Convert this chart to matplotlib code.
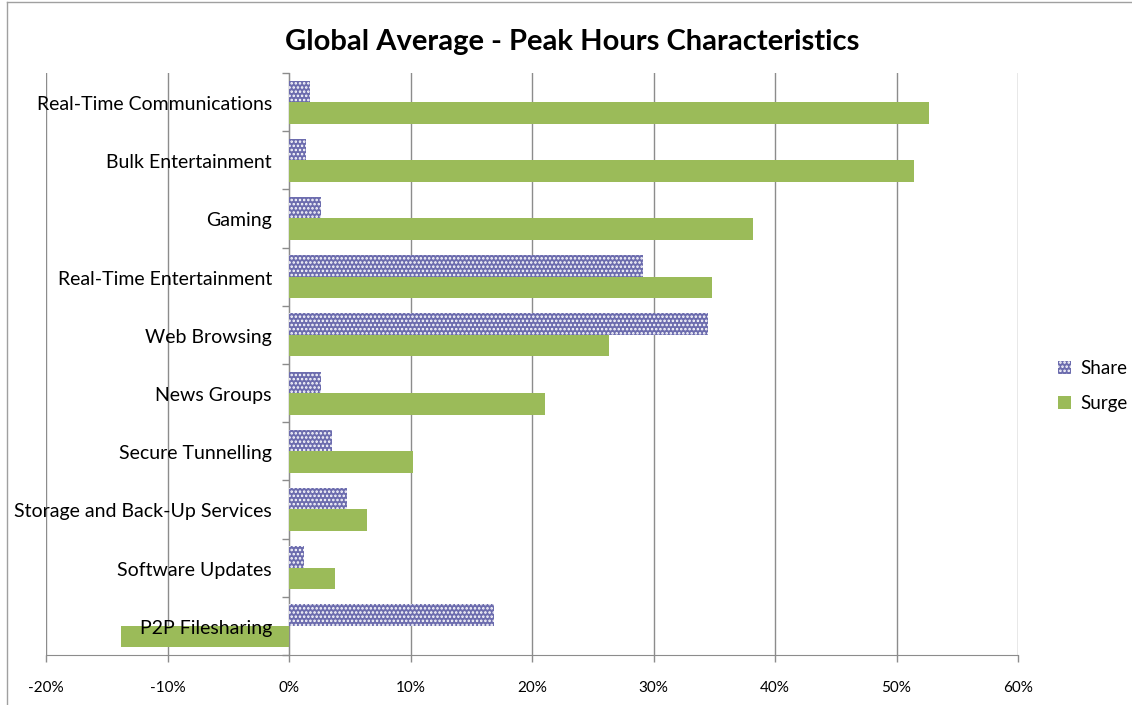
import matplotlib
matplotlib.use("Agg")
import matplotlib.pyplot as plt
from matplotlib.patches import Patch
from matplotlib.lines import Line2D
import numpy as np

plt.rcParams['font.family'] = ['Lato', 'DejaVu Sans']
plt.rcParams['hatch.color'] = 'white'
plt.rcParams['hatch.linewidth'] = 1.2

categories = [
    "Real-Time Communications",
    "Bulk Entertainment",
    "Gaming",
    "Real-Time Entertainment",
    "Web Browsing",
    "News Groups",
    "Secure Tunnelling",
    "Storage and Back-Up Services",
    "Software Updates",
    "P2P Filesharing",
]
share = [1.7, 1.4, 2.6, 29.1, 34.5, 2.6, 3.5, 4.8, 1.2, 16.9]
surge = [52.7, 51.4, 38.2, 34.8, 26.3, 21.1, 10.2, 6.4, 3.8, -13.8]
x_ticks = [-20, -10, 0, 10, 20, 30, 40, 50, 60]

share_color = "#6C6CAE"
surge_color = "#9BBB59"
grid_color = "#8C8C8C"

fig = plt.figure(figsize=(11.32, 7.05), dpi=100)
ax = fig.add_axes([46 / 1132, 50 / 705, (1018 - 46) / 1132, (655 - 73) / 705])

y = np.arange(len(categories))
bh = 0.37
ax.barh(y - 0.185, share, height=bh, color=share_color, hatch='....',
        edgecolor='white', linewidth=0, label='Share', zorder=3)
ax.barh(y + 0.185, surge, height=bh, color=surge_color, linewidth=0,
        label='Surge', zorder=3)

ax.set_xlim(-20, 60)
ax.set_ylim(len(categories) - 0.5, -0.5)

ax.set_xticks(x_ticks)
ax.set_xticklabels([f"{v}%" for v in x_ticks], fontsize=11)
ax.tick_params(axis='x', direction='out', length=5, width=1, color=grid_color, pad=14)
ax.xaxis.grid(True, color=grid_color, linewidth=1, zorder=0)
ax.set_axisbelow(True)

# category axis sits at zero
ax.spines['left'].set_position(('data', 0))
ax.spines['left'].set_color(grid_color)
ax.spines['bottom'].set_color(grid_color)
ax.spines['top'].set_visible(False)
ax.spines['right'].set_visible(False)
ax.set_yticks(np.arange(-0.5, len(categories), 1.0))
ax.set_yticklabels([])
ax.tick_params(axis='y', direction='out', length=5, width=1, color=grid_color)

# category names drawn on top of the bars
for i, name in enumerate(categories):
    ax.text(-1.4, i + 0.04, name, ha='right', va='center', fontsize=14,
            zorder=6, clip_on=False)

fig.text(572 / 1132, 1 - 42 / 705, "Global Average - Peak Hours Characteristics",
         ha='center', va='center', fontsize=21, fontweight='bold')

handles = [Patch(facecolor=share_color, hatch='....', edgecolor='white', linewidth=0),
           Patch(facecolor=surge_color, linewidth=0)]
fig.legend(handles, ['Share', 'Surge'], loc='center left',
           bbox_to_anchor=(1050 / 1132, 1 - 386 / 705), frameon=False,
           fontsize=13.5, handlelength=0.7, handleheight=0.7, handletextpad=0.5,
           labelspacing=1.0, borderaxespad=0)

# chart border
fig.add_artist(Line2D([7 / 1132, 7 / 1132], [0, 1 - 2 / 705], transform=fig.transFigure,
                      color='#A0A0A0', linewidth=1))
fig.add_artist(Line2D([7 / 1132, 1], [1 - 2 / 705, 1 - 2 / 705], transform=fig.transFigure,
                      color='#A0A0A0', linewidth=1))

fig.savefig("out.png", dpi=100)
